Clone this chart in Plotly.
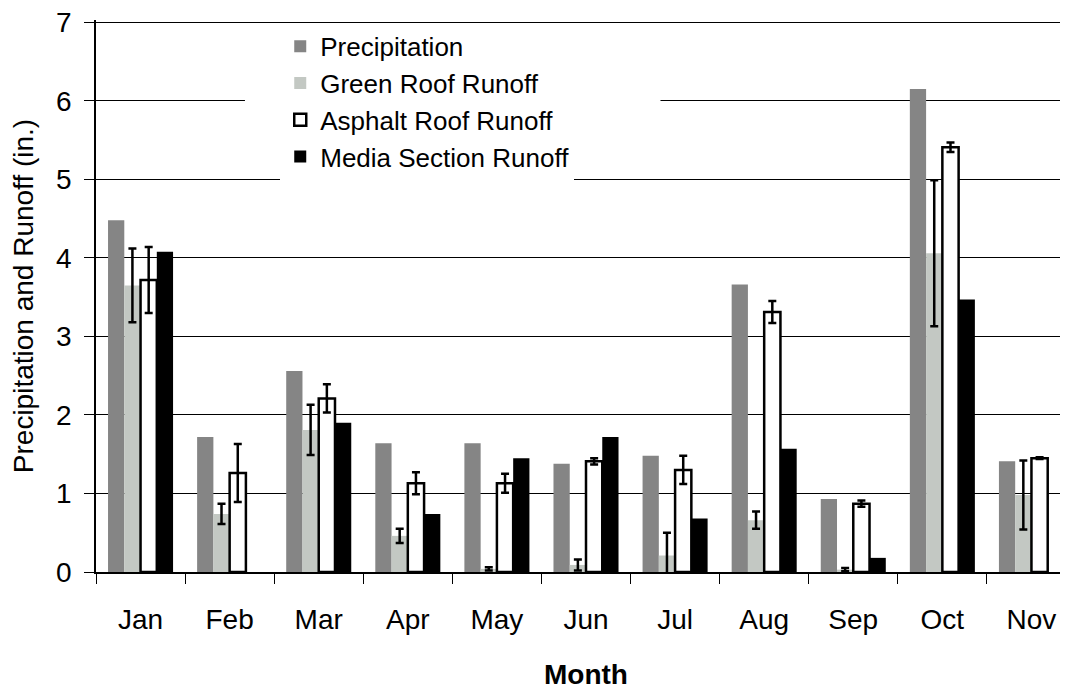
import plotly.graph_objects as go

months = ["Jan", "Feb", "Mar", "Apr", "May", "Jun", "Jul", "Aug", "Sep", "Oct", "Nov"]

precipitation = [4.48, 1.72, 2.56, 1.64, 1.64, 1.38, 1.48, 3.66, 0.93, 6.15, 1.41]

green_roof = [3.65, 0.74, 1.81, 0.46, 0.04, 0.09, 0.21, 0.66, 0.03, 4.06, 0.98]
green_roof_err = [0.47, 0.13, 0.32, 0.09, 0.02, 0.07, 0.29, 0.11, 0.02, 0.93, 0.44]

asphalt_roof = [3.72, 1.26, 2.21, 1.13, 1.13, 1.41, 1.30, 3.31, 0.87, 5.41, 1.45]
asphalt_roof_err = [0.42, 0.37, 0.18, 0.14, 0.12, 0.04, 0.18, 0.14, 0.04, 0.06, 0.01]

media_section = [4.08, 0.0, 1.90, 0.74, 1.45, 1.72, 0.68, 1.57, 0.18, 3.47, 0.0]

FONT = "Liberation Sans, Arial, sans-serif"

err_style = dict(type="data", visible=True, color="black", thickness=2.5, width=4)

fig = go.Figure()
fig.add_trace(go.Bar(
    name="Precipitation", x=months, y=precipitation,
    marker=dict(color="#858585", line=dict(width=0)),
))
fig.add_trace(go.Bar(
    name="Green Roof Runoff", x=months, y=green_roof,
    marker=dict(color="#c3c8c3", line=dict(width=0)),
    error_y=dict(array=green_roof_err, **err_style),
))
fig.add_trace(go.Bar(
    name="Asphalt Roof Runoff", x=months, y=asphalt_roof,
    marker=dict(color="white", line=dict(color="black", width=2.5)),
    error_y=dict(array=asphalt_roof_err, **err_style),
))
fig.add_trace(go.Bar(
    name="Media Section Runoff", x=months, y=media_section,
    marker=dict(color="black", line=dict(width=0)),
))

# the page body adds an 8px offset, so the margins are shifted to compensate
fig.update_layout(
    width=1068, height=688,
    paper_bgcolor="white", plot_bgcolor="white",
    margin=dict(l=88, r=0, t=12, b=124),
    barmode="group", bargap=0.27, bargroupgap=0.0,
    font=dict(family=FONT, size=28, color="black"),
    legend=dict(
        x=0.188, y=0.995, xanchor="left", yanchor="top",
        bgcolor="white", borderwidth=0,
        font=dict(family=FONT, size=26, color="black"),
        tracegroupgap=0, itemwidth=30,
    ),
    # white strip behind the legend hides the 6-inch gridline there, as in the original
    shapes=[dict(
        type="rect", xref="paper", yref="paper", layer="above",
        x0=0.152, x1=0.576, y0=0.84, y1=0.872,
        fillcolor="white", line=dict(width=0),
    )],
    xaxis=dict(
        title=dict(text="<b>Month</b>", font=dict(size=28), standoff=30),
        range=[-0.5, 10.5],
        showline=True, linecolor="black", linewidth=1.5,
        ticks="outside", tickson="boundaries", ticklen=10, tickcolor="black",
        tickfont=dict(size=28), showgrid=False, automargin=False,
        ticklabelstandoff=22,
    ),
    yaxis=dict(
        title=dict(text="Precipitation and Runoff (in.)", font=dict(size=28), standoff=16),
        range=[0, 7.03], dtick=1,
        showline=True, linecolor="black", linewidth=1.5,
        ticks="outside", ticklen=10, tickcolor="black",
        tickfont=dict(size=28), ticklabelstandoff=7, ticklabeloverflow="allow",
        showgrid=True, gridcolor="black", gridwidth=1,
        zeroline=False, automargin=False,
    ),
)

fig.write_html("out.html")
